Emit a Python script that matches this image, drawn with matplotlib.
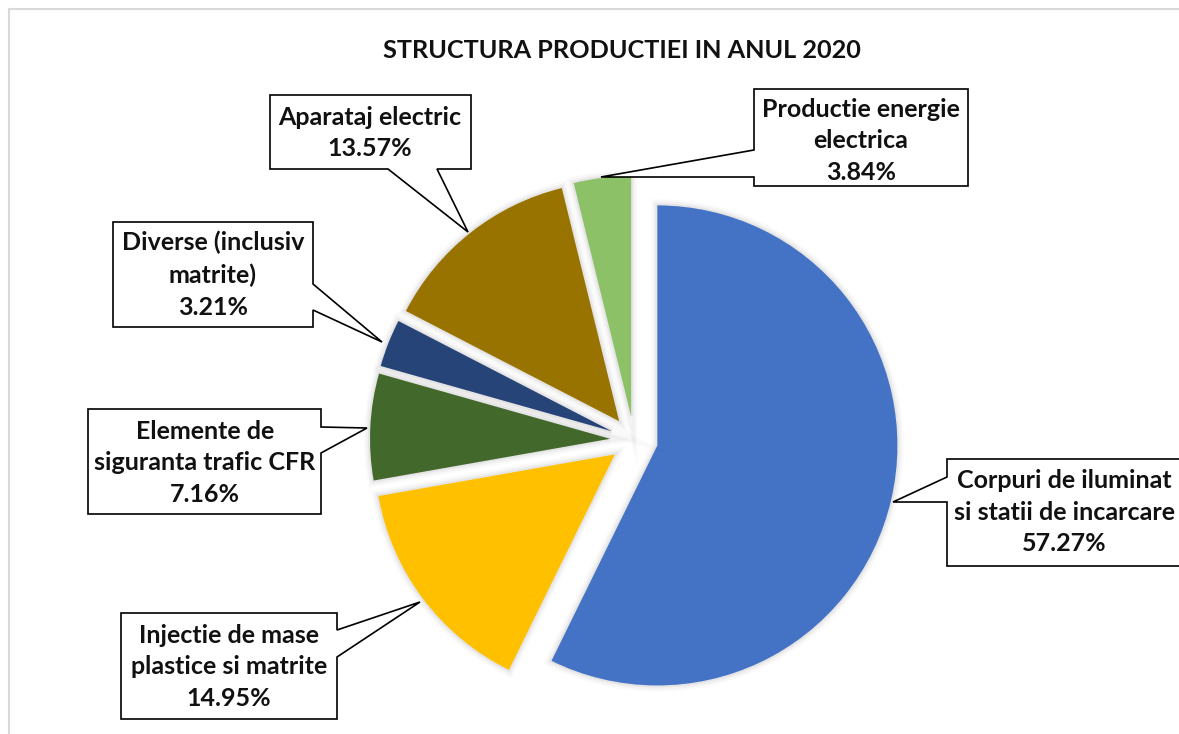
import matplotlib
matplotlib.use("Agg")
import matplotlib.pyplot as plt
import matplotlib.patheffects as pe
from matplotlib.patches import Polygon

W, H = 1179, 734

labels = ["Corpuri de iluminat\nsi statii de incarcare",
          "Injectie de mase\nplastice si matrite",
          "Elemente de\nsiguranta trafic CFR",
          "Diverse (inclusiv\nmatrite)",
          "Aparataj electric",
          "Productie energie\nelectrica"]
shares = [57.27, 14.95, 7.16, 3.21, 13.57, 3.84]
colors = ["#4472C4", "#FFC000", "#43682B", "#264478", "#997300", "#8CC168"]

# callout outlines in image pixels (x, y from top), pointer included
callouts = [
    [(947, 459), (1182, 459), (1182, 566), (947, 566), (947, 502), (893, 502), (947, 477)],
    [(121, 613), (337, 613), (337, 630), (420, 602), (337, 657), (337, 719), (121, 719)],
    [(88, 409), (321, 409), (321, 427), (367, 428), (321, 453), (321, 514), (88, 514)],
    [(113, 222), (313, 222), (313, 284), (382, 342), (313, 310), (313, 327), (113, 327)],
    [(270, 95), (471, 95), (471, 169), (437, 169), (468, 232), (388, 169), (270, 169)],
    [(754, 89), (968, 89), (968, 186), (754, 186), (754, 177), (601, 177), (754, 150)],
]
text_pos = [(1064, 512), (229, 667), (205, 463), (213, 275), (370, 133), (861, 141)]

radius = 240
explode = 0.1

fig = plt.figure(figsize=(W / 100, H / 100), dpi=100)
ax = fig.add_axes([0, 0, 1, 1])

glow = [pe.Stroke(linewidth=9, foreground="#000000", alpha=0.02),
        pe.Stroke(linewidth=6, foreground="#000000", alpha=0.03),
        pe.Stroke(linewidth=3, foreground="#000000", alpha=0.05),
        pe.Normal()]

wedges, _ = ax.pie(shares, colors=colors, startangle=90, counterclock=False,
                   explode=[explode * radius] * len(shares), radius=radius,
                   center=(634, H - 440), wedgeprops=dict(linewidth=0))
for w in wedges:
    w.set_path_effects(glow)

for lab, val, pts, (tx, ty) in zip(labels, shares, callouts, text_pos):
    poly = Polygon([(x, H - y) for x, y in pts], closed=True, facecolor="white",
                   edgecolor="black", linewidth=1.2, zorder=5)
    ax.add_patch(poly)
    ax.text(tx, H - ty, "{}\n{:.2f}%".format(lab, val), ha="center", va="center",
            fontsize=18, fontweight="bold", family="Lato", linespacing=1.47,
            color="#111111", zorder=6)

ax.set_xlim(0, W)
ax.set_ylim(0, H)
ax.set_aspect("equal")
ax.axis("off")

fig.text(622 / W, 1 - 50 / H, "STRUCTURA PRODUCTIEI IN ANUL 2020", ha="center",
         va="center", fontsize=18.2, fontweight="bold", family="Lato", color="#111111")

# chart area frame (only top and left edges visible in the crop)
ax.plot([9, W], [H - 9, H - 9], color="#d9d9d9", linewidth=1.5, zorder=0)
ax.plot([9, 9], [H - 9, 0], color="#d9d9d9", linewidth=1.5, zorder=0)

fig.savefig("out.png", dpi=100)
